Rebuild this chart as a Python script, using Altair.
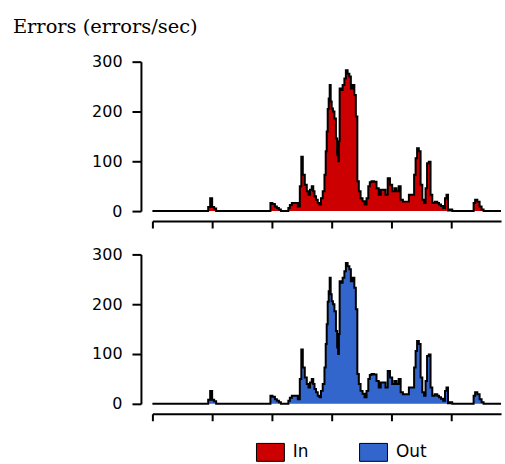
import altair as alt
import pandas as pd

# time axis (minutes from the start of the window) and error rates (errors/sec)
minutes = [0, 55, 57, 59, 61, 63, 65, 118, 119, 122, 124, 126, 128, 130, 136, 137,
           139, 141, 145, 147, 149, 150, 152, 154, 156, 157.5, 159, 161, 162, 163.5,
           165, 167, 168.5, 170, 172, 173.5, 174.5, 175.5, 176.5, 177.5, 178.5, 179.5,
           180.5, 182, 183.5, 185, 186, 187, 187.5, 188.5, 190, 192, 193.5, 195, 197,
           198.5, 200, 202, 203.5, 205, 206.5, 208, 210, 212, 214, 216, 217.5, 219,
           221, 224, 226, 228.5, 230, 233, 235, 237.5, 239.5, 242, 244, 246, 248.5,
           250, 253, 262, 263.5, 265, 266.5, 268.5, 270, 272, 273.5, 275, 276.5, 278.5,
           280, 282, 285, 287, 288.5, 291, 293, 294.5, 296, 297.5, 300, 302, 322, 323,
           325, 327.5, 329.5, 331.5, 333.5, 350]
errors = [0, 0, 8, 26, 8, 5, 0, 0, 16, 14, 9, 6, 3, 0, 0, 6,
          12, 16, 16, 9, 50, 109, 73, 53, 40, 33, 43, 50, 40, 30,
          23, 16, 13, 26, 40, 73, 120, 160, 205, 226, 253, 220,
          206, 200, 186, 146, 113, 100, 140, 246, 243, 253, 266, 283, 276,
          270, 246, 253, 233, 190, 60, 40, 26, 20, 13, 26, 50, 58,
          60, 59, 46, 33, 43, 43, 33, 66, 53, 40, 46, 40, 50,
          23, 19, 33, 73, 106, 126, 120, 53, 23, 16, 46, 96, 99,
          33, 16, 19, 16, 13, 10, 6, 26, 33, 1, 3, 0, 0, 16,
          23, 19, 9, 3, 0, 0]

series = ["In", "Out"]
series_colors = ["#CC0000", "#3366CC"]
y_ticks = [0, 100, 200, 300]
x_ticks = [0, 60, 120, 180, 240, 300]

rows = []
for s in series:
    for t, v in zip(minutes, errors):
        rows.append({"t": t, "v": v, "s": s})
df = pd.DataFrame(rows)

color = alt.Color(
    "s:N",
    scale=alt.Scale(domain=series, range=series_colors),
    legend=alt.Legend(
        title=None, orient="none", legendX=109, legendY=382.5, direction="horizontal",
        symbolType="M-1.556,-1H1.556V1H-1.556Z", symbolSize=324,
        symbolStrokeColor="black", symbolStrokeWidth=1, symbolOpacity=1,
        labelFont="DejaVu Sans", labelFontSize=17, labelColor="black",
        labelOffset=13, columnPadding=48.5, padding=0,
    ),
)


def panel(name):
    base = alt.Chart(df).transform_filter(alt.datum.s == name)
    x = alt.X(
        "t:Q",
        scale=alt.Scale(domain=[0, 350], nice=False, zero=False),
        axis=alt.Axis(values=x_ticks, labels=False, title=None, offset=10,
                      tickSize=7, tickWidth=2, domainWidth=2, tickColor="black",
                      domainColor="black", grid=False),
    )
    y = alt.Y(
        "v:Q",
        scale=alt.Scale(domain=[0, 300], nice=False),
        axis=alt.Axis(values=y_ticks, title=None, offset=11.5, tickSize=9, tickWidth=2,
                      domainWidth=2, tickColor="black", domainColor="black",
                      labelFont="DejaVu Sans", labelFontSize=16, labelColor="black",
                      labelPadding=10, grid=False),
    )
    area = base.mark_area(interpolate="step", opacity=1).encode(x=x, y=y, color=color)
    line = base.mark_line(interpolate="step", color="black", strokeWidth=2).encode(x=x, y=y)
    return alt.layer(area, line).properties(width=350, height=150)


chart = alt.vconcat(panel("In"), panel("Out"), spacing=17.5).properties(
    title=alt.TitleParams(
        "Errors (errors/sec)", anchor="start", frame="bounds", dx=-79, offset=15.8,
        font="DejaVu Serif", fontSize=19.5, fontWeight="normal", color="black",
    ),
    padding={"left": 12, "top": 16, "right": 0, "bottom": 0},
    background="white",
).configure_view(strokeWidth=0, strokeOpacity=0)

chart.save("out.html", embed_options={"renderer": "svg", "actions": False})
